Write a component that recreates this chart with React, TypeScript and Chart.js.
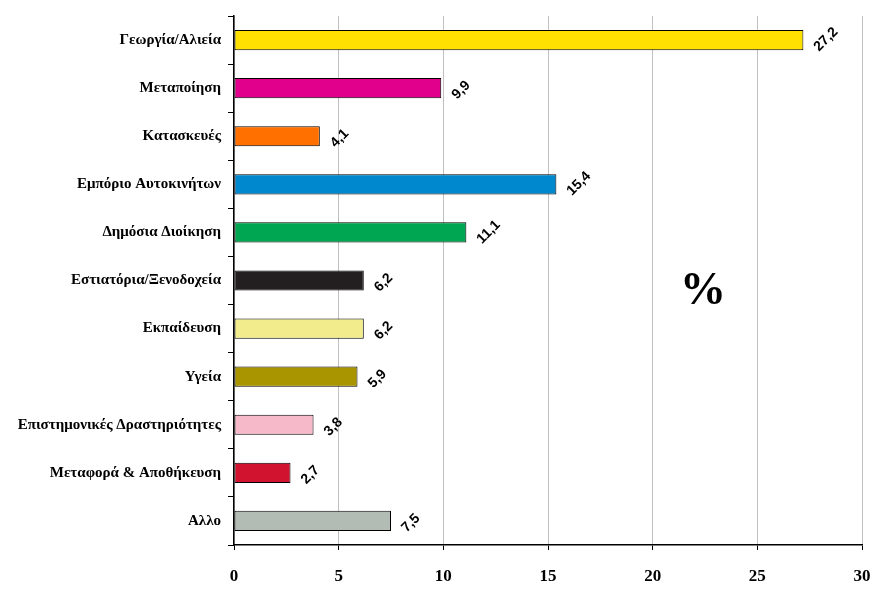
import React, { useEffect, useRef } from "react";
import { Chart, registerables } from "chart.js";

Chart.register(...registerables);

const categories = [
  "Γεωργία/Αλιεία",
  "Μεταποίηση",
  "Κατασκευές",
  "Εμπόριο Αυτοκινήτων",
  "Δημόσια Διοίκηση",
  "Εστιατόρια/Ξενοδοχεία",
  "Εκπαίδευση",
  "Υγεία",
  "Επιστημονικές Δραστηριότητες",
  "Μεταφορά & Αποθήκευση",
  "Αλλο",
];

const values = [27.2, 9.9, 4.1, 15.4, 11.1, 6.2, 6.2, 5.9, 3.8, 2.7, 7.5];

const barColors = [
  "#FFE000",
  "#E0008C",
  "#FF7000",
  "#0088CF",
  "#00A651",
  "#231F20",
  "#F2EC8C",
  "#A99500",
  "#F5B9C9",
  "#D1132F",
  "#B3BCB4",
];

const xTicks = [0, 5, 10, 15, 20, 25, 30];
const unitLabel = "%";

const valueLabelPlugin = {
  id: "valueLabels",
  afterDatasetsDraw(chart: any) {
    const ctx = chart.ctx;
    const meta = chart.getDatasetMeta(0);
    ctx.save();
    ctx.fillStyle = "#000";
    ctx.font = "bold 14px 'Liberation Sans', Arial, sans-serif";
    ctx.textAlign = "left";
    ctx.textBaseline = "middle";
    meta.data.forEach((bar: any, i: number) => {
      const txt = values[i].toFixed(1).replace(".", ",");
      ctx.save();
      ctx.translate(bar.x + 13, bar.y + 9);
      ctx.rotate(-Math.PI / 4);
      ctx.fillText(txt, 0, 0);
      ctx.restore();
    });
    ctx.font = "bold 46px 'Liberation Serif', 'Times New Roman', serif";
    ctx.textAlign = "center";
    ctx.textBaseline = "middle";
    const xs = chart.scales.x;
    ctx.fillText(unitLabel, xs.getPixelForValue(22.4), 292);
    ctx.restore();
  },
};

export default function App() {
  const ref = useRef<HTMLCanvasElement | null>(null);

  useEffect(() => {
    document.body.style.margin = "0";
    const canvas = ref.current!;
    const chart = new Chart(canvas, {
      type: "bar",
      data: {
        labels: categories,
        datasets: [
          {
            data: values,
            backgroundColor: barColors,
            borderColor: "#000",
            borderWidth: 1,
            borderSkipped: false,
            barPercentage: 0.42,
            categoryPercentage: 1,
          },
        ],
      },
      options: {
        indexAxis: "y",
        animation: false,
        responsive: false,
        maintainAspectRatio: false,
        layout: { padding: { left: 0, right: 29, top: 15, bottom: 0 } },
        plugins: {
          legend: { display: false },
          tooltip: { enabled: false },
        },
        scales: {
          x: {
            min: 0,
            max: 30,
            afterBuildTicks(scale: any) {
              scale.ticks = xTicks.map((v) => ({ value: v }));
            },
            afterFit(scale: any) {
              scale.height = 62;
            },
            grid: {
              color: "#c0c0c0",
              tickColor: "#000",
              tickLength: 5,
              lineWidth: 1,
            },
            border: { color: "#000", width: 1.5 },
            ticks: {
              color: "#000",
              padding: 16,
              font: {
                family: "'Liberation Serif', 'Times New Roman', serif",
                size: 17,
                weight: "bold",
              },
            },
          },
          y: {
            afterFit(scale: any) {
              scale.width = 234;
            },
            grid: {
              drawOnChartArea: false,
              tickColor: "#000",
              tickLength: 6,
              offset: true,
            },
            border: { color: "#000", width: 1.5 },
            ticks: {
              color: "#000",
              padding: 7,
              font: {
                family: "'Liberation Serif', 'Times New Roman', serif",
                size: 15,
                weight: "bold",
              },
            },
          },
        },
      },
      plugins: [valueLabelPlugin],
    });
    return () => chart.destroy();
  }, []);

  return (
    <div style={{ position: "absolute", left: 0, top: 0, width: 891, height: 607, background: "#fff" }}>
      <canvas ref={ref} width={891} height={607} style={{ width: 891, height: 607 }} />
    </div>
  );
}
